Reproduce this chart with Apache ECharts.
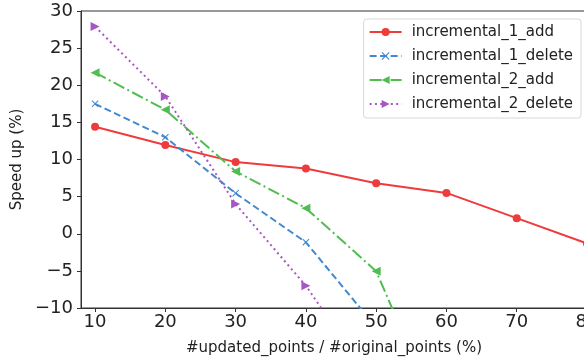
<!DOCTYPE html>
<html>
<head>
<meta charset="utf-8">
<script src="https://cdn.jsdelivr.net/npm/echarts@6/dist/echarts.min.js"></script>
<style>html,body{margin:0;padding:0;background:#fff;}#c{width:584px;height:362px;}</style>
</head>
<body>
<div id="c"></div>
<script>
var xValues = [10, 20, 30, 40, 50, 60, 70, 80];
var xTicks = [10, 20, 30, 40, 50, 60, 70, 80];
var yTicks = [-10, -5, 0, 5, 10, 15, 20, 25, 30];
var inc1Add = [14.4, 11.95, 9.65, 8.8, 6.8, 5.5, 2.1, -1.3];
var inc1Delete = [17.5, 13.0, 5.45, -1.15, -12.6];
var inc2Add = [21.7, 16.7, 8.4, 3.45, -5.05, -27];
var inc2Delete = [27.9, 18.5, 4.0, -7.0, -20.8];
var seriesNames = ['incremental_1_add', 'incremental_1_delete', 'incremental_2_add', 'incremental_2_delete'];

function pairs(vals) { return vals.map(function (v, i) { return [xValues[i], v]; }); }
var FONT = 'DejaVu Sans';
var crossPath = 'path://M0,1 L1,0 L5,4 L9,0 L10,1 L6,5 L10,9 L9,10 L5,6 L1,10 L0,9 L4,5 Z';
var colors = ['#ee3b3b', '#4189cf', '#4fbd4f', '#a558c2'];

var chart = echarts.init(document.getElementById('c'));
chart.setOption({
  animation: false,
  backgroundColor: '#fff',
  grid: { left: 81, top: 11, width: 506, height: 297, outerBoundsMode: 'none', containLabel: false,
    show: true, borderColor: '#333', borderWidth: 1, backgroundColor: 'transparent' },
  legend: {
    orient: 'vertical', right: 3, top: 19,
    backgroundColor: '#fff', borderColor: '#d8d8d8', borderWidth: 1, borderRadius: 3,
    padding: [4, 8, 5, 5], itemGap: 6, itemWidth: 32, itemHeight: 10,
    textStyle: { fontFamily: FONT, fontSize: 15, color: '#222', lineHeight: 18, padding: [0, 0, 0, 5] },
    data: seriesNames
  },
  xAxis: {
    type: 'value', min: 8, max: 80,
    name: '#updated_points / #original_points (%)', nameLocation: 'middle', nameGap: 33,
    nameTextStyle: { fontFamily: FONT, fontSize: 15, color: '#222' },
    axisLine: { show: true, onZero: false, lineStyle: { color: '#333', width: 1 } },
    axisTick: { show: true, length: 4, customValues: xTicks, lineStyle: { color: '#333' } },
    axisLabel: { customValues: xTicks, fontFamily: FONT, fontSize: 18, color: '#222', margin: 5 },
    splitLine: { show: false }
  },
  yAxis: {
    type: 'value', min: -10, max: 30, interval: 5,
    name: 'Speed up (%)', nameLocation: 'middle', nameGap: 56,
    nameTextStyle: { fontFamily: FONT, fontSize: 15, color: '#222' },
    axisLine: { show: true, onZero: false, lineStyle: { color: '#333', width: 1 } },
    axisTick: { show: true, length: 4, lineStyle: { color: '#333' } },
    axisLabel: { fontFamily: FONT, fontSize: 18, color: '#222', margin: 8,
      formatter: function (v) { return String(v).replace('-', '\u2212'); } },
    splitLine: { show: false }
  },
  series: [
    { name: seriesNames[0], type: 'line', data: pairs(inc1Add), symbol: 'circle', symbolSize: 8,
      itemStyle: { color: colors[0] }, lineStyle: { color: colors[0], width: 2, type: 'solid' } },
    { name: seriesNames[1], type: 'line', data: pairs(inc1Delete), symbol: crossPath, symbolSize: 7,
      itemStyle: { color: colors[1] }, lineStyle: { color: colors[1], width: 2, type: [7, 3.5] } },
    { name: seriesNames[2], type: 'line', data: pairs(inc2Add), symbol: 'triangle', symbolSize: 9, symbolRotate: 90,
      itemStyle: { color: colors[2] }, lineStyle: { color: colors[2], width: 2, type: [12, 3.5, 2, 3.5] } },
    { name: seriesNames[3], type: 'line', data: pairs(inc2Delete), symbol: 'triangle', symbolSize: 9, symbolRotate: -90,
      itemStyle: { color: colors[3] }, lineStyle: { color: colors[3], width: 2, type: [2, 3.3] } }
  ]
});
</script>
</body>
</html>
